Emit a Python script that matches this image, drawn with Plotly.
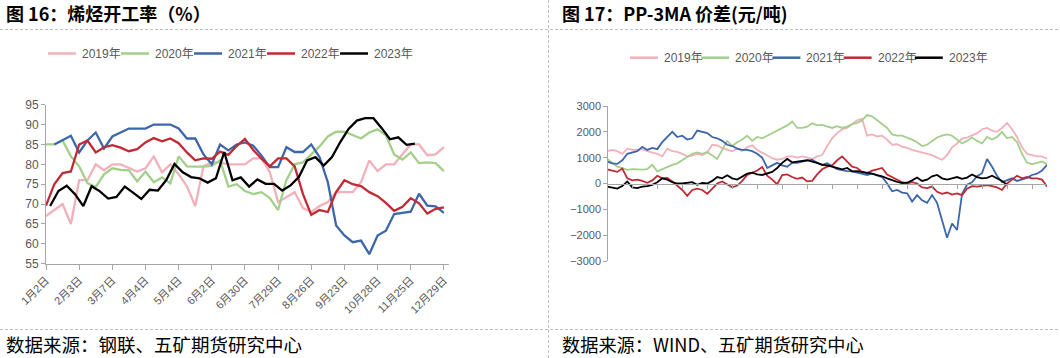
import plotly.graph_objects as go

W, H = 1060, 358

# ---------------- Left chart: 烯烃开工率 (weekly) ----------------
left_tick_labels = ['1月2日', '2月3日', '3月7日', '4月4日', '5月4日', '6月2日', '6月30日',
                    '7月29日', '8月26日', '9月23日', '10月28日', '11月25日', '12月29日']
years = ['2019年', '2020年', '2021年', '2022年', '2023年']

rate_2019 = [67, 68.5, 70, 65, 76, 76, 80, 78.5, 80, 80, 79, 78.2, 79, 82, 78, 80, 77.5, 74.5,
             69.5, 79.5, 80.5, 80.5, 80, 80, 80, 81.5, 81.5, 78, 70.5, 71.7, 73, 69, 68, 69.5,
             70.5, 73, 73, 73, 75.5, 81, 78.3, 80, 80, 82.5, 85, 85, 82.3, 82.5, 84.3]
rate_2020 = [85, 85, 86, 82, 79.5, 75.3, 74.3, 77.5, 79, 78.6, 78.5, 75.7, 78.2, 75.5, 76.7, 75.2,
             82, 79.5, 79.4, 79.4, 79.6, 81, 74.4, 75, 73.3, 72.5, 73, 71.5, 68.5, 76, 80, 80.5,
             82.5, 84.5, 87, 88.2, 88.2, 87.3, 86.5, 88, 88.8, 87.3, 82.5, 81.2, 83, 80.3, 80.5,
             80.3, 78.3]
rate_2021 = [None, 85, 86, 87.2, 83, 86, 88, 84, 87, 88, 89, 89, 89, 90, 90, 90, 89, 86.5, 86.5,
             82.5, 80, 85, 83.5, 85, 85.5, 84.7, 82.2, 79.3, 79.3, 84.3, 83.1, 83.1, 85, 81.8,
             75.5, 64.6, 62.1, 60.4, 60.8, 57.4, 62.1, 63.3, 67.5, 67.8, 68.1, 72.6, 69.6, 69.4, 67.8]
rate_2022 = [69.6, 75, 77.8, 78.2, 85, 86, 83, 84.3, 84.8, 84.2, 83.3, 83.8, 85.5, 86.6, 85.8,
             86.5, 85.3, 83, 81, 81.5, 81.4, 83.2, 82.4, 84.6, 86.4, 83.6, 81.4, 79.5, 81.5, 81.5,
             79.5, 72.5, 67.3, 68.5, 68, 73, 76, 75, 74.5, 73, 72, 70.3, 68.3, 69.3, 71.5, 70.2,
             67.6, 68.8, 69.2]
rate_2023 = [69.5, 73.3, 74.6, 72.5, 69.5, 74.5, 73.2, 71.4, 71.8, 74.4, 72.9, 71.3, 73.6, 73.4,
             76, 80.1, 78, 76.8, 76.5, 75.4, 76.5, 83.1, 76, 76.7, 74.4, 76.2, 75.1, 75.1, 73.4,
             74.7, 76.8, 81, 81.8, 79.7, 81.8, 85.6, 88.9, 91, 91.6, 91.6, 89.1, 86.3, 86.8, 84.9,
             85.2]
rate_series = [rate_2019, rate_2020, rate_2021, rate_2022, rate_2023]
rate_week_shift = [0, 0, 0, 0, 0.5]   # 2023 weekly dates fall half a week later

# ---------------- Right chart: PP-3MA 价差 (daily, sampled every 4 days) ----------------
right_tick_labels = ['1月2日', '1月22日', '2月11日', '3月3日', '3月23日', '4月13日', '5月6日',
                     '5月26日', '6月15日', '7月5日', '7月25日', '8月14日', '9月3日', '9月23日',
                     '10月20日', '11月9日', '11月29日', '12月19日']
day_step = 4

spread_2019 = [1250, 1300, 1250, 1150, 1350, 1300, 1300, 1330, 1250, 1200, 1150, 1050, 1350, 1250,
               1220, 1150, 1050, 1080, 1150, 1100, 1200, 1500, 1480, 1370, 1300, 1250, 1350, 1260,
               1400, 1480, 1300, 1200, 1100, 980, 920, 950, 1050, 1050, 1000, 1050, 1000, 950,
               1050, 1100, 1450, 1750, 1950, 2100, 2150, 2300, 2450, 2500, 1850, 1900, 1820, 1850,
               1700, 1500, 1520, 1430, 1380, 1300, 1250, 1180, 1130, 1100, 1000, 920, 1100, 1400,
               1550, 1750, 1780, 1880, 1950, 2100, 2150, 2050, 2000, 2150, 2350, 2100, 1800, 1400,
               1150, 1100, 1050, 1050, 960]
spread_2020 = [950, 800, 650, 600, 530, 560, 550, 540, 560, 720, 470, 560, 620, 720, 780, 900,
               1050, 1150, 1200, 1150, 1220, 1100, 950, 1300, 1650, 1450, 1600, 1700, 1850, 1650,
               1800, 1750, 1850, 1950, 2050, 2150, 2250, 2400, 2150, 2150, 2200, 2330, 2250, 2270,
               2200, 2150, 2220, 2150, 2200, 2300, 2350, 2450, 2650, 2600, 2450, 2300, 2150, 1900,
               1850, 1850, 1780, 1700, 1600, 1450, 1500, 1650, 1780, 1850, 1900, 1850, 1700, 1550,
               1650, 1780, 1650, 1550, 1800, 1700, 1800, 2000, 1750, 1800, 1600, 1150, 800, 750,
               800, 850, 750]
spread_2021 = [850, 780, 760, 900, 1150, 1200, 1250, 1420, 1300, 1380, 1330, 1600, 1800, 2000,
               1800, 1850, 1700, 1750, 2050, 2000, 1950, 1800, 1750, 1650, 1500, 1450, 1350, 1300,
               1300, 1250, 1150, 1000, 600, 700, 800, 700, 650, 800, 800, 850, 880, 920, 800, 720,
               780, 680, 560, 520, 480, 470, 420, 360, 330, 380, 300, 250, 0, -300, -250, -350,
               -380, -700, -450, -650, -750, -450, -750, -1400, -2100, -1550, -1800, -400, -50, 50,
               280, 400, 950, 650, 300, 50, 120, 200, 100, 150, 220, 330, 380, 500, 720]
spread_2022 = [550, 500, 450, 580, 200, 120, 150, 100, 30, 120, 300, 200, 220, 80, -100, -250,
               -480, -250, -200, -250, -400, -200, 0, 80, -50, -150, -80, 100, 330, 420, 500, 640,
               300, 150, -30, 330, 350, 250, 180, 230, 80, 100, 350, 550, 650, 700, 900, 1050, 850,
               650, 600, 450, 400, 500, 550, 600, 350, 250, 150, 50, 0, 50, 0, -150, -180, -120,
               -320, -400, -350, -430, -380, -450, -200, -100, -120, -80, -60, -100, -150, -250, 0,
               150, 300, 200, 250, 200, 200, 150, -120]
spread_2023 = [-120, -150, -200, -100, 80, -150, -180, -120, -100, -50, 50, 200, 150, 50, 0, 0,
               20, 50, -50, 20, 0, 100, 250, 200, 320, 200, 150, 250, 380, 420, 350, 330, 380, 450,
               600, 800, 950, 820, 850, 880, 900, 850, 800, 720, 700, 650, 600, 550, 600, 470, 480,
               450, 400, 380, 320, 280, 200, 120, 60, 20, 30, 120, 230, 100, 150, 280, 330, 200,
               150, 200, 250, 180, 230, 350, 250, 200, 220, 300, 200, 100, -50]
spread_series = [spread_2019, spread_2020, spread_2021, spread_2022, spread_2023]

colors = ['#F2B1BA', '#A3CF8B', '#3D66AB', '#C22A33', '#000000']

AXIS = '#A6A6A6'
TXT = '#595959'
FONT = 'Liberation Sans, Noto Sans CJK SC, sans-serif'
CJK = 'Noto Sans CJK SC, sans-serif'


def px_x(p):
    return p / W


def px_y(p):
    return 1 - p / H


fig = go.Figure()

for name, vals, shift, col in zip(years, rate_series, rate_week_shift, colors):
    fig.add_trace(go.Scatter(
        x=[i + shift for i in range(len(vals))], y=vals, name=name, mode='lines',
        line=dict(color=col, width=2.3), xaxis='x', yaxis='y', showlegend=False,
        connectgaps=False, hoverinfo='skip'))

for name, vals, col in zip(years, spread_series, colors):
    fig.add_trace(go.Scatter(
        x=[i * day_step for i in range(len(vals))], y=vals, name=name, mode='lines',
        line=dict(color=col, width=1.8), xaxis='x2', yaxis='y2', showlegend=False,
        hoverinfo='skip'))

left_tickvals = [4 * i for i in range(len(left_tick_labels))]
right_tickvals = [20 * i for i in range(len(right_tick_labels))]

y2_dom = [px_y(261), px_y(106)]
zero_pos = (y2_dom[0] + y2_dom[1]) / 2

fig.update_layout(
    width=W, height=H,
    margin=dict(l=0, r=0, t=0, b=0, pad=0, autoexpand=False),
    paper_bgcolor='white', plot_bgcolor='white',
    font=dict(family=FONT, color=TXT, size=12),
    showlegend=False,
    xaxis=dict(domain=[px_x(46), px_x(448.7)], range=[0, 48.58], anchor='y', automargin=False,
               tickmode='array', tickvals=left_tickvals, ticktext=left_tick_labels,
               tickangle=-45, ticks='outside', ticklen=5, tickcolor=AXIS, tickwidth=1,
               showline=True, linecolor=AXIS, linewidth=1, showgrid=False, zeroline=False,
               tickfont=dict(family=FONT, size=11, color=TXT)),
    yaxis=dict(domain=[px_y(263.7), px_y(104.7)], range=[55, 95], anchor='x', automargin=False,
               tickmode='array', tickvals=list(range(55, 96, 5)),
               ticks='outside', ticklen=4, tickcolor=AXIS, showline=True, linecolor=AXIS,
               linewidth=1, showgrid=False, zeroline=False,
               tickfont=dict(family=FONT, size=12, color=TXT)),
    xaxis2=dict(domain=[px_x(607.3), px_x(1047)], range=[0, 352], anchor='free',
                position=zero_pos, tickmode='array', tickvals=right_tickvals, automargin=False,
                ticks='outside', ticklen=4, tickcolor=AXIS, showline=True, linecolor=AXIS,
                linewidth=1, showgrid=False, zeroline=False, showticklabels=False),
    xaxis3=dict(domain=[px_x(607.3), px_x(1047)], range=[0, 352], anchor='y2', automargin=False,
                overlaying='x2', tickmode='array', tickvals=right_tickvals,
                ticktext=right_tick_labels, tickangle=-45, ticks='', showline=False,
                showgrid=False, zeroline=False,
                tickfont=dict(family=FONT, size=10.5, color=TXT)),
    yaxis2=dict(domain=y2_dom, range=[-3000, 3000], anchor='free', position=px_x(607.3),
                automargin=False, tickmode='array', tickvals=list(range(-3000, 3001, 1000)),
                ticks='outside', ticklen=4, tickcolor=AXIS, showline=True, linecolor=AXIS,
                linewidth=1, showgrid=False, zeroline=False,
                tickfont=dict(family=FONT, size=11, color=TXT)),
)

# legends (drawn as sample line + label, one row per chart)
legend_rows = [
    # (first line start px, line centre y px, item pitch px)
    (48, 53.5, 73),
    (630, 57.7, 71.2),
]
for x0, yc, pitch in legend_rows:
    for k, (name, col) in enumerate(zip(years, colors)):
        xs = x0 + k * pitch
        fig.add_shape(type='line', xref='paper', yref='paper',
                      x0=px_x(xs), x1=px_x(xs + 28), y0=px_y(yc), y1=px_y(yc),
                      line=dict(color=col, width=2.5))
        fig.add_annotation(text=name, x=px_x(xs + 32), y=px_y(yc), xref='paper', yref='paper',
                           xanchor='left', yanchor='middle', showarrow=False,
                           font=dict(family=FONT, size=12, color=TXT))

# titles and sources
texts = [
    ('<b>图 16：烯烃开工率（%）</b>', 4, 13, 18),
    ('<b>图 17：PP-3MA 价差(元/吨)</b>', 560, 13, 18),
    ('数据来源：钢联、五矿期货研究中心', 4, 343.5, 18.5),
    ('数据来源：WIND、五矿期货研究中心', 560, 343.5, 18.2),
]
for t, x, y, s in texts:
    fig.add_annotation(text=t, x=px_x(x), y=px_y(y), xref='paper', yref='paper',
                       xanchor='left', yanchor='middle', showarrow=False,
                       font=dict(family=CJK, size=s, color='#000000'))

# dashed frame lines
dash_style = dict(color='#BFBFBF', width=1, dash='3px,2px')
fig.add_shape(type='line', xref='paper', yref='paper', x0=0, x1=1, y0=px_y(29.5), y1=px_y(29.5),
              line=dash_style)
fig.add_shape(type='line', xref='paper', yref='paper', x0=0, x1=1, y0=px_y(329.5), y1=px_y(329.5),
              line=dash_style)
fig.add_shape(type='line', xref='paper', yref='paper', x0=px_x(548.5), x1=px_x(548.5), y0=0, y1=1,
              line=dash_style)

# remove the browser's default page margin so the figure fills the window exactly
page_fix = "document.body.style.margin='0';document.body.style.padding='0';"
fig.write_html('out.html', post_script=page_fix, config={'displayModeBar': False})
